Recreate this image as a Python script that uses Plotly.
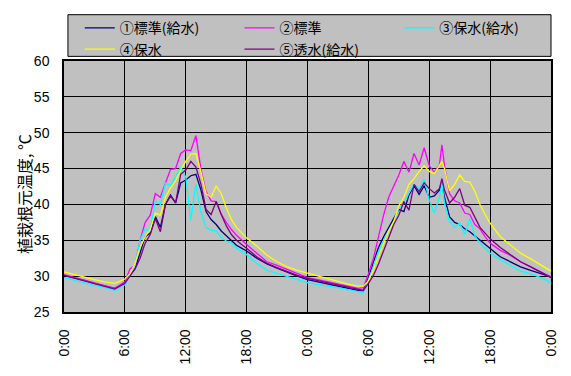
import plotly.graph_objects as go

hours = [0, 1, 2, 3, 4, 5,
         6, 6.5, 7, 7.5, 8, 8.5, 9, 9.5, 10, 10.5, 11, 11.5, 12, 12.5, 13, 13.5, 14, 14.5,
         15, 15.5, 16, 16.5, 17, 17.5, 18,
         19, 20, 21, 22, 23, 24, 25, 26, 27, 28, 29, 29.5,
         30, 30.5, 31, 31.5, 32, 32.5, 33, 33.5, 34, 34.5, 35, 35.5, 36, 36.5, 37, 37.25,
         37.5, 38, 38.5, 39, 39.5, 40, 40.5, 41, 41.5, 42,
         43, 44, 45, 46, 47, 48]

names = ["①標準(給水)", "②標準", "③保水(給水)", "④保水", "⑤透水(給水)"]

s1 = [30.1, 29.8, 29.4, 29.0, 28.7, 28.3,
      29.0, 30.2, 31.0, 33.2, 35.5, 36.0, 38.3, 36.8, 40.0, 41.3, 40.2, 43.0, 43.4, 44.0,
      44.2, 42.0, 39.0, 37.9, 37.2, 36.3, 35.6, 34.9, 34.3, 33.9, 33.5,
      32.5, 31.7, 31.1, 30.5, 30.0, 29.5, 29.2, 28.9, 28.7, 28.4, 28.0, 28.0,
      29.8, 32.0, 34.0, 35.5, 36.8, 38.0, 39.3, 39.0, 41.3, 42.6, 41.4, 42.6, 41.0, 41.2,
      42.0, 43.0, 41.0, 38.3, 37.5, 37.2, 36.6, 36.2, 35.6, 35.0, 34.4, 33.8,
      32.7, 32.0, 31.3, 30.8, 30.3, 29.9]

s2 = [30.2, 29.8, 29.5, 29.0, 28.7, 28.3,
      29.2, 31.0, 31.5, 35.0, 37.5, 38.5, 41.5, 41.0, 43.0, 44.9, 45.0, 47.1, 47.6, 47.5,
      49.6, 44.9, 41.8, 40.5, 40.4, 38.6, 37.5, 36.5, 35.7, 35.0, 34.4,
      33.2, 32.0, 31.5, 30.9, 30.3, 29.8, 29.5, 29.2, 28.9, 28.6, 28.3, 28.4,
      30.3, 32.5, 35.5, 38.5, 41.0, 42.5, 44.1, 46.0, 44.5, 47.1, 45.5, 47.9, 45.4, 44.5,
      45.5, 48.3, 45.4, 41.5, 40.5, 40.2, 38.8, 38.6, 37.2, 36.6, 35.5, 34.6,
      33.6, 32.9, 32.0, 31.3, 30.6, 29.9]

s3 = [29.8, 29.4, 29.1, 28.7, 28.4, 28.0,
      28.8, 30.2, 31.5, 35.0, 36.6, 36.3, 40.5, 40.0, 43.0, 42.6, 44.0, 45.2, 43.8, 37.8,
      42.8, 38.9, 36.8, 36.4, 36.3, 35.4, 34.9, 34.6, 33.9, 33.4, 33.0,
      31.8, 30.8, 30.4, 29.9, 29.5, 29.1, 28.8, 28.6, 28.4, 28.1, 27.8, 27.7,
      29.5, 31.3, 33.4, 35.0, 36.3, 37.4, 39.5, 40.2, 41.6, 42.8, 42.2, 43.5, 40.6, 38.8,
      41.0, 43.0, 40.2, 37.6, 36.8, 37.4, 35.8, 38.0, 35.6, 34.6, 33.9, 33.2,
      32.3, 31.5, 30.7, 30.3, 29.8, 29.1]

s4 = [30.6, 30.2, 29.9, 29.5, 29.2, 29.0,
      29.6, 30.3, 31.8, 34.0, 35.5, 36.5, 38.8, 38.5, 41.0, 42.3, 43.3, 44.8, 46.0, 47.0,
      47.1, 44.5, 41.5, 41.0, 42.6, 41.5, 39.5, 37.9, 36.8, 36.0, 35.3,
      34.2, 32.9, 32.0, 31.3, 30.8, 30.4, 30.0, 29.6, 29.3, 28.9, 28.6, 28.6,
      29.3, 30.9, 32.8, 34.6, 36.3, 37.6, 39.8, 41.0, 42.8, 43.6, 44.6, 45.4, 44.6, 44.3,
      45.4, 46.0, 45.0, 41.9, 42.8, 44.1, 43.2, 43.1, 41.8, 40.0, 38.6, 37.4,
      35.5, 34.4, 33.2, 32.4, 31.5, 30.7]

s5 = [30.1, 29.7, 29.4, 29.0, 28.6, 28.2,
      29.0, 30.0, 31.0, 32.5, 34.6, 35.8, 38.0, 36.2, 40.0, 41.2, 40.2, 44.2, 44.8, 46.0,
      45.2, 42.8, 39.3, 38.6, 40.4, 38.6, 37.0, 35.8, 35.0, 34.4, 33.9,
      32.7, 31.8, 31.2, 30.6, 30.1, 29.7, 29.4, 29.1, 28.8, 28.5, 28.1, 28.0,
      29.0, 30.1, 31.7, 33.5, 35.5, 37.2, 38.5, 40.4, 39.2, 42.8, 41.8, 43.0, 42.2, 41.6,
      42.2, 43.6, 42.0, 40.2, 41.0, 42.2, 39.9, 39.6, 38.2, 36.8, 36.0, 35.2,
      34.0, 33.0, 32.0, 31.3, 30.6, 29.8]

colors = ["#000080", "#ff00ff", "#00ffff", "#ffff00", "#800080"]
legend_ids = ["legend", "legend2", "legend3", "legend", "legend2"]

tick_vals = [0, 6, 12, 18, 24, 30, 36, 42, 48]
tick_text = ["0:00", "6:00", "12:00", "18:00", "0:00", "6:00", "12:00", "18:00", "0:00"]

fig = go.Figure()
for name, ys, c, lg in zip(names, [s1, s2, s3, s4, s5], colors, legend_ids):
    fig.add_trace(go.Scatter(x=hours, y=ys, name=name, mode="lines", legend=lg,
                             line=dict(color=c, width=1.3)))

W, H = 571, 376
L, R, T, B = 64, 13, 53, 52
pw, ph = W - L - R, H - T - B


def px2x(px):
    return (px - L) / pw


def py2y(py):
    return (H - B - py) / ph


def legend_at(px):
    return dict(orientation="v", x=px2x(px), xanchor="left",
                y=py2y(0.5), yanchor="top",
                bgcolor="rgba(0,0,0,0)", borderwidth=0,
                font=dict(family="Noto Sans CJK JP", size=14, color="black"),
                tracegroupgap=0)


fig.update_layout(
    width=W, height=H,
    margin=dict(l=L, r=R, t=T, b=B),
    paper_bgcolor="white",
    plot_bgcolor="#c0c0c0",
    font=dict(family="Liberation Sans, Arial, sans-serif", size=14, color="black"),
    showlegend=True,
    legend=legend_at(80),
    legend2=legend_at(242),
    legend3=legend_at(404),
    shapes=[dict(type="rect", xref="paper", yref="paper",
                 x0=px2x(68), x1=px2x(558), y0=py2y(48), y1=py2y(3),
                 fillcolor="#c0c0c0", line=dict(color="black", width=1), layer="below")],
    annotations=[dict(text="植栽根元温度, ℃", xref="paper", yref="paper",
                      x=px2x(24), y=py2y(197), xanchor="center", yanchor="middle",
                      textangle=-90, showarrow=False,
                      font=dict(family="Noto Sans CJK JP", size=16, color="black"))],
)

fig.update_xaxes(range=[0, 48], tickvals=tick_vals, ticktext=tick_text, tickangle=-90,
                 showgrid=True, gridcolor="black", gridwidth=1,
                 showline=True, linecolor="black", linewidth=1.5, mirror=True,
                 ticks="", ticklabelstandoff=10, zeroline=False)
fig.update_yaxes(range=[25, 60], dtick=5, tick0=25,
                 showgrid=True, gridcolor="black", gridwidth=1,
                 showline=True, linecolor="black", linewidth=1.5, mirror=True,
                 ticks="", ticklabelstandoff=10, zeroline=False)

fig.write_html("out.html")
